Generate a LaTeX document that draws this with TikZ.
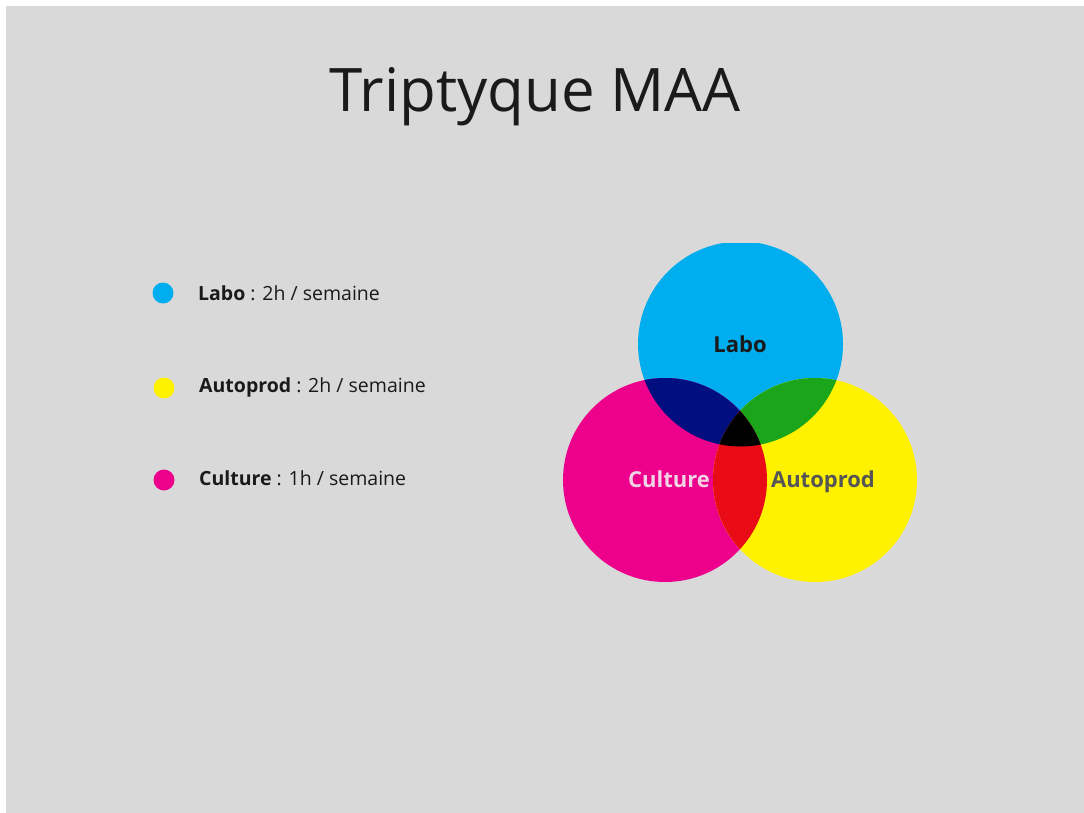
\documentclass[tikz,border=0pt]{standalone}
\usepackage{fontspec}
\setmainfont{Open Sans}
\definecolor{bggray}{HTML}{D9D9D9}
\definecolor{cyanc}{HTML}{00ADEE}
\definecolor{magc}{HTML}{EC008C}
\definecolor{yelc}{HTML}{FFF200}
\definecolor{navyc}{HTML}{000F80}
\definecolor{greenc}{HTML}{1BA51B}
\definecolor{redc}{HTML}{E90C17}
\definecolor{txt}{HTML}{1A1A1A}
\definecolor{culttxt}{HTML}{F2D3E4}
\definecolor{autotxt}{HTML}{555555}
\tikzset{
  legtext/.style={anchor=base west, font=\fontsize{19.5}{22}\selectfont, text=txt, inner sep=0pt},
  dot/.style={circle, minimum size=21pt, inner sep=0pt},
  circlabel/.style={anchor=base, font=\fontsize{22}{26}\selectfont\bfseries, inner sep=0pt}
}
\begin{document}
\begin{tikzpicture}[x=1pt,y=-1pt]
\useasboundingbox (0,0) rectangle (1084,813);
\fill[white] (0,0) rectangle (1084,813);
\fill[bggray] (6,6) rectangle (1084,813);
% title
\node[anchor=base, font=\fontsize{60}{70}\selectfont, text=txt, inner sep=0pt] (title) at (535,112) {Triptyque MAA};
% legend
\node[dot, fill=cyanc] (d1) at (163,293) {};
\node[dot, fill=yelc] (d2) at (164,388) {};
\node[dot, fill=magc] (d3) at (164,480) {};
\node[legtext] (l1) at (198,300) {\textbf{Labo} : 2h / semaine};
\node[legtext] (l2) at (199,392) {\textbf{Autoprod} : 2h / semaine};
\node[legtext] (l3) at (199,485) {\textbf{Culture} : 1h / semaine};
% venn
\def\cB{(740.5,344) circle (102.5)}
\def\cM{(665,480) circle (102)}
\def\cY{(815,480) circle (102)}
\begin{scope}
\clip (550,243) rectangle (930,581);
\fill[cyanc] \cB;
\fill[magc] \cM;
\fill[yelc] \cY;
\begin{scope}\clip \cB; \fill[navyc] \cM; \fill[greenc] \cY; \end{scope}
\begin{scope}\clip \cM; \fill[redc] \cY; \end{scope}
\begin{scope}\clip \cB; \clip \cM; \fill[black] \cY; \end{scope}
\end{scope}
\node[circlabel, text=txt] (labo) at (740,352) {Labo};
\node[circlabel, text=culttxt] (culture) at (669,487) {Culture};
\node[circlabel, text=autotxt] (autoprod) at (823,487) {Autoprod};
\end{tikzpicture}
\end{document}
